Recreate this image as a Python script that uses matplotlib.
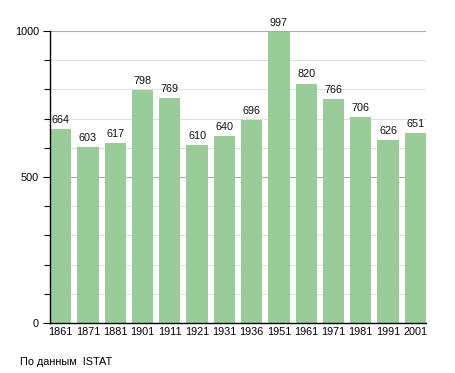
import matplotlib
matplotlib.use("Agg")
import matplotlib.pyplot as plt
from matplotlib.ticker import MultipleLocator

years = ["1861", "1871", "1881", "1901", "1911", "1921", "1931", "1936",
         "1951", "1961", "1971", "1981", "1991", "2001"]
population = [664, 603, 617, 798, 769, 610, 640, 696, 997, 820, 766, 706, 626, 651]
source_note = "По данным  ISTAT"

plt.rcParams['font.family'] = ['Liberation Sans', 'DejaVu Sans']

fig = plt.figure(figsize=(4.55, 3.73), dpi=100)
ax = fig.add_axes([50/455, 1 - 323/373, 376/455, 292/373])

x = list(range(len(years)))
bars = ax.bar(x, population, width=0.78, color="#99cc99", zorder=2)
for xi, v in zip(x, population):
    ax.annotate(str(v), (xi, v), xytext=(0, 3), textcoords="offset points",
                ha="center", va="bottom", fontsize=7.8, color="#111111")

ax.set_xlim(-0.39, len(years) - 1 + 0.39)
ax.set_ylim(0, 1000)
ax.set_xticks(x)
ax.set_xticklabels(years, fontsize=7.8)
ax.set_yticks([0, 500, 1000])
ax.set_yticklabels(["0", "500", "1000"], fontsize=7.8)
ax.yaxis.set_minor_locator(MultipleLocator(100))
ax.grid(axis="y", which="major", color="#aaaaaa", linewidth=0.8, zorder=0)
ax.grid(axis="y", which="minor", color="#e0e0e0", linewidth=0.8, zorder=0)
ax.tick_params(axis="x", length=0, pad=3)
ax.tick_params(axis="y", which="major", length=5, width=0.8, pad=3)
ax.tick_params(axis="y", which="minor", length=4, width=0.8)
for s in ["top", "right"]:
    ax.spines[s].set_visible(False)
ax.spines["left"].set_linewidth(1)
ax.spines["bottom"].set_linewidth(1)

fig.text(20/455, 1 - 362/373, source_note, fontsize=7.8, ha="left", va="center")

fig.savefig("out.png", dpi=100)
